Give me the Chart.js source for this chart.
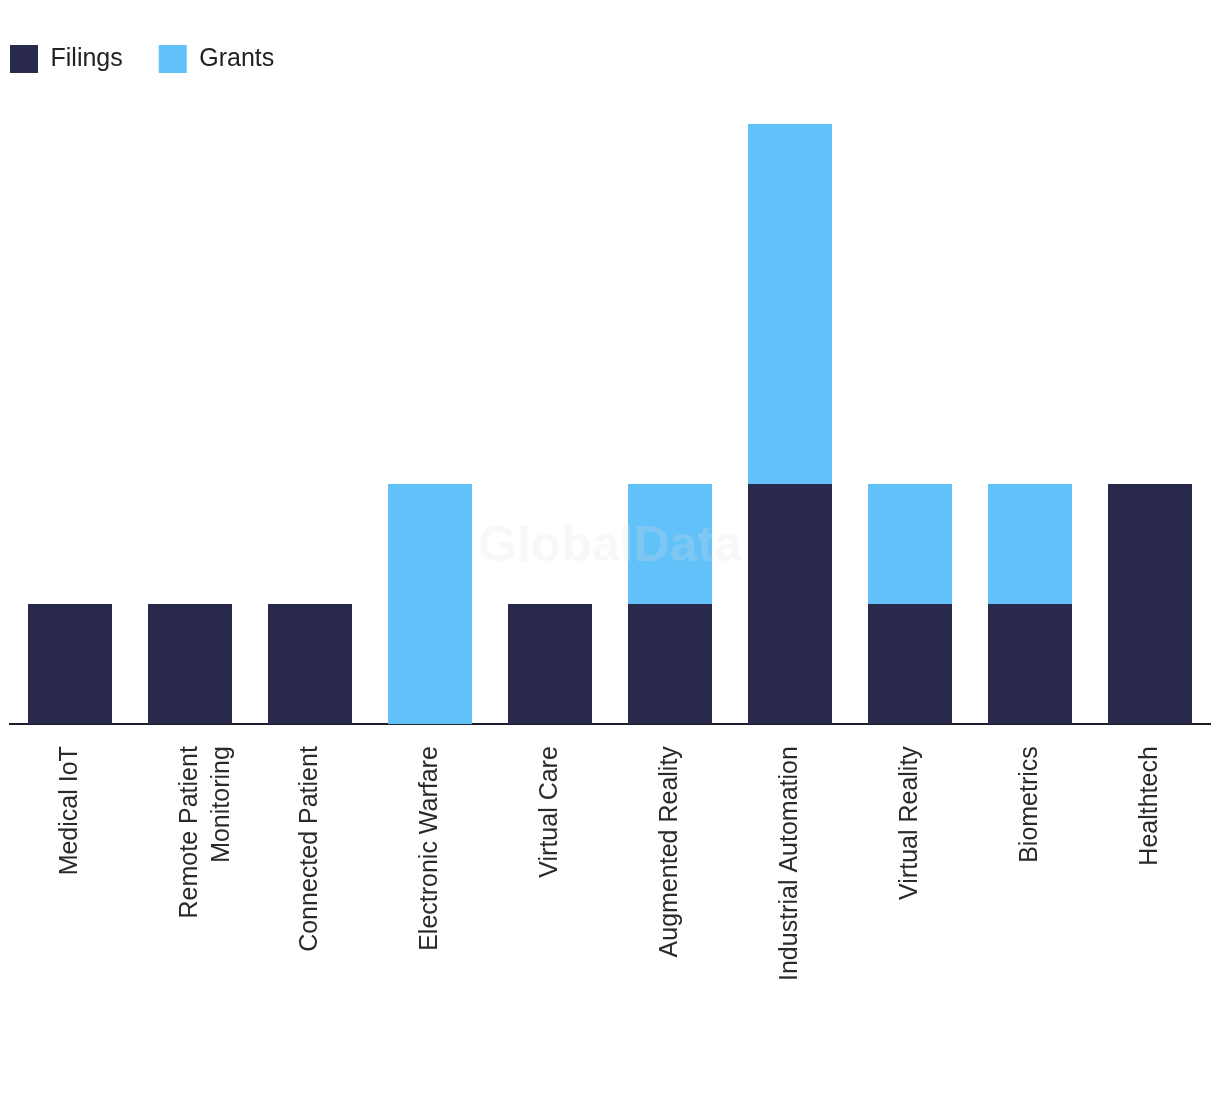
<!DOCTYPE html>
<html>
<head>
<meta charset="utf-8">
<script src="https://cdn.jsdelivr.net/npm/chart.js@4"></script>
<style>
  html, body { margin: 0; padding: 0; background: #fff; }
  #wrap { width: 1220px; height: 1094px; position: relative; }
</style>
</head>
<body>
<div id="wrap"><canvas id="chart"></canvas></div>
<script>
// Categories and series
const categories = [
  'Medical IoT',
  ['Remote Patient', 'Monitoring'],
  'Connected Patient',
  'Electronic Warfare',
  'Virtual Care',
  'Augmented Reality',
  'Industrial Automation',
  'Virtual Reality',
  'Biometrics',
  'Healthtech'
];
const filings = [1, 1, 1, 0, 1, 1, 2, 1, 1, 2];
const grants  = [0, 0, 0, 2, 0, 1, 3, 1, 1, 0];

const NAVY = '#28294b';
const SKY  = '#63c1f9';
const LEGEND_PAD = 36;

// Faint watermark over the plot
const watermark = {
  id: 'watermark',
  afterDatasetsDraw(chart) {
    const { ctx, chartArea: a } = chart;
    ctx.save();
    ctx.font = 'bold 50px "Liberation Sans", Arial, sans-serif';
    ctx.fillStyle = 'rgba(225,225,225,0.22)';
    ctx.textAlign = 'center';
    ctx.textBaseline = 'middle';
    ctx.fillText('GlobalData', (a.left + a.right) / 2, a.top + (a.bottom - a.top) * 0.705);
    ctx.restore();
  }
};

// Extra space under the legend, and pull it flush to the left edge
const legendGap = {
  id: 'legendGap',
  beforeInit(chart) {
    const fit = chart.legend.fit;
    chart.legend.fit = function () {
      fit.bind(chart.legend)();
      this.height += 41;
    };
  },
  afterLayout(chart) {
    chart.legend.left -= LEGEND_PAD;
  }
};

new Chart(document.getElementById('chart'), {
  type: 'bar',
  data: {
    labels: categories,
    datasets: [
      { label: 'Filings', data: filings, backgroundColor: NAVY, borderWidth: 0 },
      { label: 'Grants',  data: grants,  backgroundColor: SKY,  borderWidth: 0 }
    ]
  },
  options: {
    responsive: true,
    maintainAspectRatio: false,
    animation: false,
    layout: { padding: { left: 10, right: 10, top: 9, bottom: 99 } },
    datasets: { bar: { categoryPercentage: 1, barPercentage: 0.7 } },
    plugins: {
      tooltip: { enabled: false },
      legend: {
        position: 'top',
        align: 'start',
        labels: {
          boxWidth: 28,
          boxHeight: 28,
          padding: LEGEND_PAD,
          color: '#222',
          font: { family: '"Liberation Sans", Arial, sans-serif', size: 25 }
        }
      }
    },
    scales: {
      x: {
        stacked: true,
        grid: { display: false },
        border: { display: true, color: '#1e1e2a', width: 2 },
        ticks: {
          color: '#2a2a2a',
          padding: 14,
          minRotation: 90,
          maxRotation: 90,
          autoSkip: false,
          font: { family: '"Liberation Sans", Arial, sans-serif', size: 25, lineHeight: 1.3 }
        }
      },
      y: {
        stacked: true,
        display: false,
        min: 0,
        max: 5
      }
    }
  },
  plugins: [watermark, legendGap]
});
</script>
</body>
</html>
